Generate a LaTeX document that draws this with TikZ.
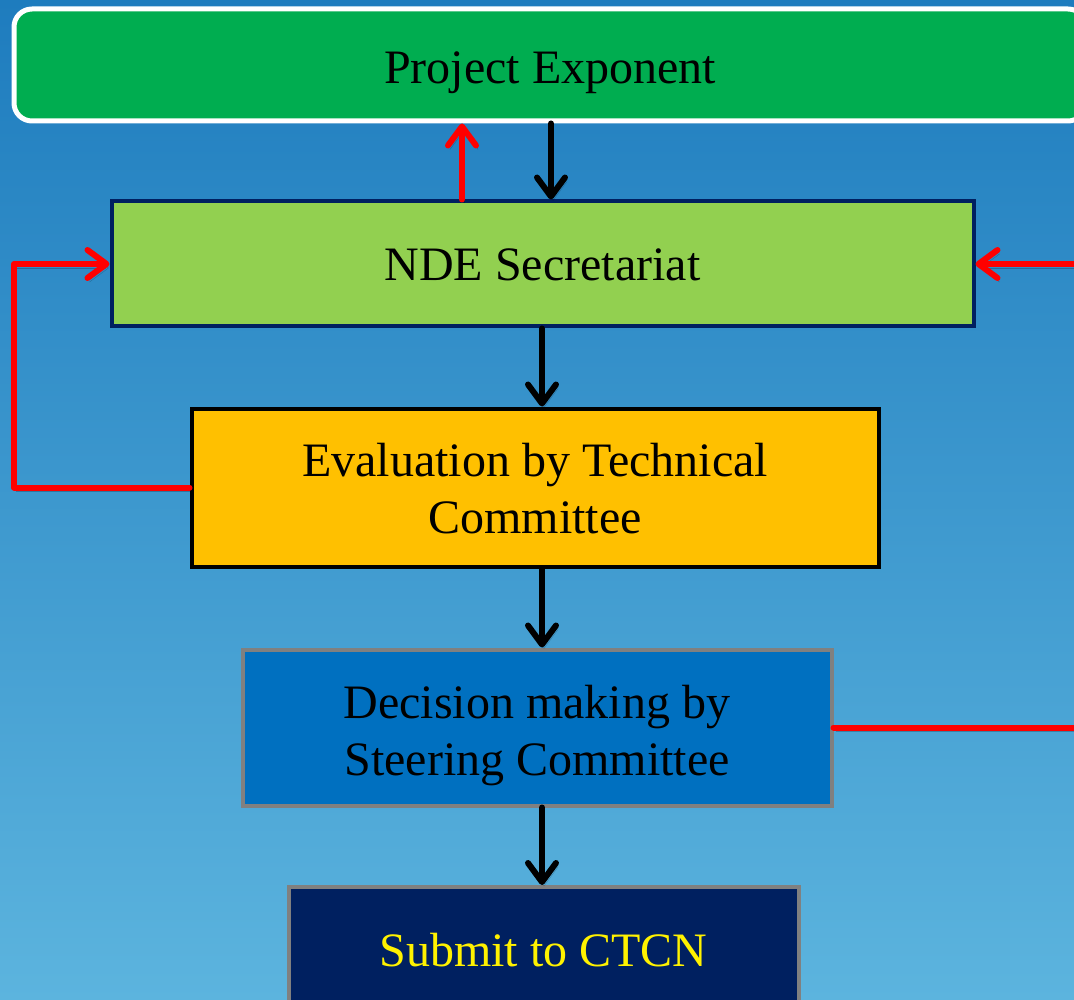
\documentclass[tikz,border=0pt]{standalone}
\usepackage{fontspec}
\setmainfont{Liberation Serif}
\usetikzlibrary{arrows.meta}
\definecolor{bgtop}{RGB}{30,124,190}
\definecolor{bgbot}{RGB}{92,180,222}
\definecolor{pegreen}{RGB}{0,173,80}
\definecolor{ndegreen}{RGB}{146,208,80}
\definecolor{navy}{RGB}{0,32,96}
\definecolor{amber}{RGB}{255,192,0}
\definecolor{midblue}{RGB}{0,112,192}
\definecolor{greyedge}{RGB}{128,128,128}
\definecolor{arrred}{RGB}{255,0,0}
\tikzset{
  boxbase/.style={rectangle, inner sep=0pt, align=center, font=\fontsize{48}{57}\selectfont, line width=4pt},
  flowarrow/.style={line width=6pt, line cap=round, line join=round,
     -{Straight Barb[length=19pt,width=28pt,round]},
     preaction={draw=black, draw opacity=0.22, transform canvas={shift={(2pt,-4pt)}}}}
}
\begin{document}
\begin{tikzpicture}[x=1pt,y=-1pt]
\useasboundingbox (0,0) rectangle (1074,1000);
\clip (0,0) rectangle (1074,1000);
\shade[top color=bgtop, bottom color=bgbot] (0,0) rectangle (1074,1000);

\node[boxbase, fill=pegreen, draw=white, line width=5pt, rounded corners=18pt,
      minimum width=1072pt, minimum height=112pt, text height=48pt, text depth=10pt] (pe) at (550,65) {Project Exponent};
\node[boxbase, fill=ndegreen, draw=navy, minimum width=862pt, minimum height=125pt,
      text height=40pt, text depth=6pt]
      (nde) at (542.5,264) {NDE Secretariat};
\node[boxbase, fill=amber, draw=black, minimum width=687pt, minimum height=158pt,
      text height=92pt, text depth=0pt]
      (eval) at (535,487.5) {Evaluation by Technical\\Committee};
\node[boxbase, fill=midblue, draw=greyedge, minimum width=589pt, minimum height=156pt,
      text height=106pt, text depth=10pt]
      (dec) at (537,727.5) {Decision making by\\Steering Committee};
\node[boxbase, fill=navy, draw=greyedge, text=yellow, minimum width=510pt, minimum height=130pt,
      text height=34pt, text depth=6pt]
      (sub) at (543.5,952) {Submit to CTCN};

% helper coordinates
\coordinate (upx) at (462,0);
\coordinate (dnx) at (551,0);
\coordinate (lx) at (14,0);
\coordinate (rx) at (1110,0);

% black flow arrows
\draw[flowarrow, black] (pe.south -| dnx) -- (nde.north -| dnx);
\draw[flowarrow, black] (nde.south -| eval.north) ++(7,0) coordinate (a1) -- (a1 |- eval.north);
\draw[flowarrow, black] (eval.south) ++(7,0) coordinate (a2) -- (a2 |- dec.north);
\draw[flowarrow, black] (dec.south) ++(5,0) coordinate (a3) -- (a3 |- sub.north);

% red feedback arrows
\draw[flowarrow, arrred] (nde.north -| upx) -- (pe.south -| upx);
\draw[flowarrow, arrred] (eval.west) -- (eval.west -| lx) -- (nde.west -| lx) -- (nde.west);
\draw[flowarrow, arrred] (dec.east) -- (dec.east -| rx) -- (nde.east -| rx) -- (nde.east);
\end{tikzpicture}
\end{document}
